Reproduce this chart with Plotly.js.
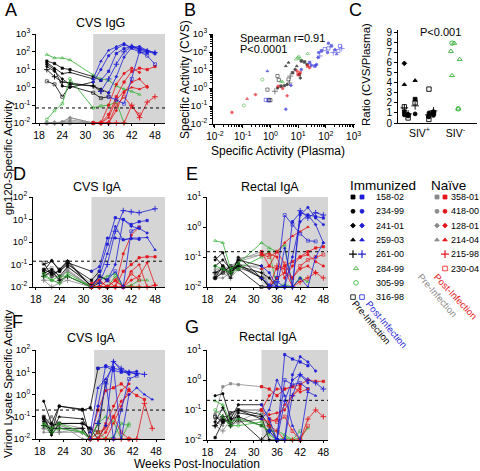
<!DOCTYPE html>
<html><head><meta charset="utf-8">
<script src="https://cdn.plot.ly/plotly-3.0.1.min.js"></script>
<style>html,body{margin:0;padding:0;background:#fff}#chart{width:480px;height:471px}</style>
</head><body><div id="chart"></div>
<script>
// ---------- DATA ----------
const weeks  = [20,22,24,26,32,34,36,38,40,42,44,46,48];
const weeksF = [19,21,23,29,31,33,35,37,39,41,43,45,47];
const immunizedIds  = ['158-02','234-99','241-01','259-03','261-00','316-98'];
const uninfectedIds = ['284-99','305-99'];
const naiveIds      = ['358-01','418-00','128-01','214-04','215-98','230-04'];
const infectWeekImm   = [34,32,36,32,34,36];
const infectWeekNaive = [32,32,34,32,34,32];

// Panel A: CVS IgG (gp120)
const cvsIgG_imm = [
 [30,22,12,10,4,2.5,8,80,150,200,150,100,80],
 [20,10,1.2,1.0,2,10,60,150,250,180,120,90,null],
 [15,8,3,1.5,1.2,0.8,0.5,4,50,180,200,120,90],
 [25,12,6,7,3,30,120,200,300,150,100,80,null],
 [10,4,2,1.8,1.2,0.6,3,20,100,200,150,110,90],
 [2.2,1.5,0.3,1.2,0.5,0.25,0.3,0.2,0.12,3,100,60,20]];
const cvsIgG_uninf = [
 [70,45,45,35,5,3,2.5,1.2,0.8,0.6,0.4,null,null],
 [0.016,0.05,0.12,3,0.07,0.09,0.1,0.15,0.01,null,null,null,null]];
const cvsIgG_naive = [
 [0.01,0.01,0.01,0.012,0.01,0.01,0.03,0.3,2,8,12,10,15],
 [0.01,0.01,0.012,0.02,0.01,0.01,0.1,1.5,6,12,7,null,null],
 [0.01,0.01,0.01,0.015,0.01,0.01,0.01,0.05,0.5,2,3,1,null],
 [0.01,0.01,0.01,0.02,0.01,0.01,0.02,0.2,0.6,1,0.8,1.2,null],
 [0.01,0.01,0.01,0.01,0.01,0.01,0.01,0.01,0.01,0.1,0.02,0.15,0.3],
 [0.01,0.01,0.01,0.01,0.01,0.01,0.01,0.1,0.3,0.08,0.03,null,null]];

// Panel D: CVS IgA (gp120)
const cvsIgA_imm = [
 [0.06,0.04,0.05,0.1,0.02,0.05,0.8,12,10,6,8,9,null],
 [0.05,0.15,0.05,0.12,0.05,0.08,1.5,1.5,1.3,1.4,1.3,null,null],
 [0.04,0.06,0.03,0.08,0.012,0.03,0.02,0.1,10,5,4,2.5,null],
 [0.1,0.14,0.06,0.15,0.01,0.03,0.3,5,1.2,1.5,1.5,1.6,0.45],
 [0.03,0.05,0.02,0.03,0.01,0.015,0.1,3,25,22,20,null,30],
 [0.12,0.03,0.06,0.13,0.01,0.03,0.02,0.05,0.01,3,4.5,null,null]];
const cvsIgA_uninf = [
 [0.04,0.02,0.03,0.03,0.01,0.02,0.03,0.04,0.01,0.012,0.02,0.02,null],
 [0.03,0.02,0.015,0.04,0.01,0.01,0.01,0.03,0.01,0.01,0.01,null,null]];
const cvsIgA_naive = [
 [0.04,0.06,0.02,0.06,0.01,0.02,0.01,0.01,0.05,0.1,0.2,0.22,0.22],
 [0.05,0.03,0.03,0.05,0.01,0.01,0.02,0.01,0.3,2,4.5,null,null],
 [0.02,0.02,0.015,0.03,0.01,0.01,0.01,0.02,0.01,0.02,0.03,0.12,0.012],
 [0.03,0.04,0.02,0.08,0.015,0.02,0.01,0.01,0.01,0.05,0.1,0.01,null],
 [0.02,0.01,0.015,0.02,0.01,0.01,0.01,0.01,0.01,0.01,0.01,0.01,0.012],
 [0.06,0.07,0.03,0.05,0.01,0.01,0.01,0.02,0.01,0.04,0.02,null,null]];

// Panel E: Rectal IgA (gp120)
const recIgA_imm = [
 [0.02,0.05,0.03,0.06,0.02,0.01,0.01,0.01,1.5,3,2.5,2.2,2],
 [0.08,0.14,0.03,0.08,0.05,0.03,0.01,0.01,0.01,2.5,4.5,2,1.2],
 [0.05,0.08,0.04,0.05,0.03,0.02,0.01,0.01,0.1,1.5,2.5,1.2,0.3],
 [0.1,0.05,0.02,0.1,0.02,0.012,0.01,0.2,0.01,0.02,0.01,0.1,0.3],
 [0.03,0.04,0.03,0.05,0.02,0.01,0.015,0.01,0.01,3.5,2,3,2.5],
 [0.02,0.03,0.05,0.04,0.01,0.01,0.02,2.5,1.2,0.6,0.35,0.33,null]];
const recIgA_uninf = [
 [0.35,0.3,0.04,0.06,0.3,0.2,0.15,0.25,0.01,0.02,0.015,null,null],
 [0.05,0.04,0.03,0.04,0.1,0.15,0.01,0.012,0.01,0.02,null,null,null]];
const recIgA_naive = [
 [0.03,0.05,0.04,0.08,0.15,0.05,0.04,0.05,0.07,0.1,0.15,0.2,0.22],
 [0.025,0.03,0.05,0.07,0.12,0.13,0.1,0.02,0.05,0.1,0.12,0.07,0.05],
 [0.02,0.02,0.03,0.05,0.05,0.01,0.02,0.03,0.02,0.04,0.05,0.03,null],
 [0.04,0.04,0.02,0.06,0.04,0.05,0.15,0.3,0.5,0.7,1,null,null],
 [0.02,0.03,0.02,0.04,0.03,0.01,0.05,0.04,0.01,0.015,0.02,0.03,0.02],
 [0.03,0.04,0.03,0.09,0.12,0.1,0.15,0.06,0.02,0.05,0.08,0.1,0.12]];

// Panel F: CVS IgA (virion lysate)
const virCvs_imm = [
 [0.08,0.02,0.3,0.2,0.25,15,18,12,10,10,8,null,null],
 [0.5,0.05,0.3,0.22,0.01,0.3,20,15,12,10,11,null,null],
 [0.06,0.015,0.05,0.05,0.03,0.01,0.04,30,12,8,null,null,null],
 [0.1,0.02,0.1,0.08,0.02,2,5,18,0.01,1,2,1,0.6],
 [0.04,0.03,0.03,0.03,0.01,0.05,3,30,15,10,9,8,null],
 [0.1,0.04,0.05,0.05,0.03,0.02,4,0.01,0.2,5,7,null,null]];
const virCvs_uninf = [
 [0.05,0.03,0.05,0.02,0.01,0.05,0.1,0.06,0.01,0.05,null,null,null],
 [0.04,0.02,0.03,0.02,0.01,0.02,0.01,0.012,0.05,0.04,null,null,null]];
const virCvs_naive = [
 [0.03,0.1,0.05,0.03,0.01,0.2,1.5,2,3,1.5,0.9,0.6,null],
 [0.1,0.05,0.02,0.03,0.01,0.01,0.05,0.3,1.5,3,null,null,null],
 [0.02,0.02,0.05,0.01,0.01,0.01,0.02,0.1,0.5,1,null,null,null],
 [0.05,0.1,0.03,0.02,0.01,0.01,0.01,0.05,0.3,1.8,null,null,null],
 [0.03,0.02,0.02,0.02,0.01,0.01,0.01,0.01,0.01,0.01,0.01,0.4,0.03],
 [0.06,0.05,0.04,0.02,0.01,0.02,0.03,0.1,0.02,0.01,null,null,null]];

// Panel G: Rectal IgA (virion lysate)
const virRec_imm = [
 [0.012,0.04,0.05,0.06,0.03,0.02,0.01,7,5,4,3,null,null],
 [0.3,0.35,0.05,0.15,0.15,0.05,0.01,0.01,1.5,6,4,2,null],
 [0.04,0.12,0.03,0.08,0.06,0.01,0.01,0.2,1,1.5,0.8,null,null],
 [0.03,0.05,0.04,0.1,0.05,0.1,1,0.3,0.03,0.01,0.4,0.3,null],
 [0.03,0.06,0.03,0.05,0.01,0.02,0.01,0.01,0.3,1.5,1,0.8,0.5],
 [0.06,0.04,0.08,0.1,0.07,0.03,0.01,1,0.7,0.8,0.5,null,null]];
const virRec_uninf = [
 [0.2,0.15,0.04,0.05,0.03,0.02,0.02,0.015,0.01,0.012,0.025,null,null],
 [0.1,0.06,0.03,0.03,0.04,0.015,0.01,0.012,0.01,0.02,null,null,null]];
const virRec_naive = [
 [0.07,0.6,0.75,0.7,0.6,0.5,0.3,0.5,0.6,0.7,1,0.9,0.9],
 [0.05,0.06,0.06,0.1,0.1,0.3,0.5,0.5,0.6,0.4,0.5,null,null],
 [0.04,0.03,0.08,0.1,0.1,0.07,0.08,0.1,0.3,0.5,null,null,null],
 [0.08,0.1,0.05,0.04,0.05,0.04,0.05,0.15,0.3,0.6,null,null,null],
 [0.03,0.02,0.05,0.04,0.05,0.03,0.02,0.01,0.01,0.01,0.05,0.1,0.06],
 [0.06,0.05,0.03,0.04,0.1,0.05,0.04,0.06,0.02,0.01,0.03,null,null]];

// Detection thresholds (dotted lines)
const thrA = 0.07, thrD = 0.14, thrE = 0.15, thrF = 0.2, thrG = 0.21;
const shadeStartWeek = 32;

// Panel B: plasma vs CVS specific activity
const bPreX  = [0.89,1.0,0.78,1.8,2.0,1.45,1.8,2.4,3.2,4.0,4.8,4.5,5.2,6.3,7.8,8.9,13,17,21,11,12,4.5,3.6];
const bPreY  = [0.22,0.21,0.81,4.6,2.8,0.66,1.0,1.26,1.35,1.55,1.9,3.0,4.6,7.1,10.7,16.6,32,28,20,5.6,3.6,26,16.6];
const bPreAnimal = [5,5,5,5,5,4,1,0,1,2,4,5,4,0,1,3,0,0,1,0,2,3,3];
const bPostX = [0.78,0.68,0.85,3.6,5.5,13,26,30,40,46,52,60,55,69,91,115,123,158,186,214,245,282,324,372,123];
const bPostY = [8.7,0.22,0.2,0.066,1.4,10.7,26,18,16.6,20,49,60,93,115,145,93,309,219,93,132,76,115,219,158,158];
const bPostAnimal = [3,5,5,2,2,1,0,1,0,1,2,4,1,0,5,1,1,0,4,1,3,5,5,4,5];
const bNaiveX = [0.041,0.145,0.29,1.9,2.75,4.0,9.1,11.7,10,22,26];
const bNaiveY = [0.044,0.25,0.43,1.26,0.93,0.37,8.7,7.1,5.6,16.6,13.5];
const bNaiveAnimal = [1,3,2,1,1,2,1,0,0,0,1];
const bUninfX = [0.11,0.51,2.4,2.75,8.5,9.8,10.5,11.7,22];
const bUninfY = [0.107,2.95,2.4,2.2,40,49,56,43,81];
const bUninfAnimal = [1,1,0,0,0,0,0,0,0];

// Panel C: ratio CVS/plasma
const ratioImm = [
 [0.8,1.0,2.35,1.1,0.7],
 [0.7,0.8,1.0,0.9,0.75,0.6],
 [5.9,1.0,0.8,0.7],
 [4.2,3.8,1.2,0.7,0.9],
 [1.2,1.5,1.7,0.9,0.8],
 [3.35,2.0,1.6,0.35,0.5,1.0]];
const ratioUninf = [[7.9,7.1,6.3,4.7,1.4],[7.9,1.4]];
const cCategories = ['SIV+','SIV-'];
const cTickText = ['SIV<sup>+</sup>','SIV<sup>-</sup>'];

// ---------- STYLE ----------
const FONT = 'Arial, "Liberation Sans", Helvetica, sans-serif';
const BLACK='#000000', BLUE='#1f1fd8', RED='#e4161c', GREEN='#2fae2f', GRAY='#8a8a8a', SHADE='#d5d5d5';
const immSym = ['square','circle','diamond','triangle-up','cross-thin','square-open'];
const uninfSym = ['triangle-up-open','circle-open'];
const naiveSym = ['square','circle','diamond','triangle-up','cross-thin','square-open'];
const W = 480, H = 471;
const px = x => x / W, py = y => 1 - y / H;

function symSize(symbol, base) {
  if (symbol.indexOf('thin') >= 0) return base + 1.6;
  if (symbol.indexOf('open') >= 0) return base + 0.6;
  if (symbol === 'diamond') return base - 0.2;
  return base;
}
function mkLine(xa, ya, x, y, color, symbol) {
  const thin = symbol.indexOf('thin') >= 0;
  return {type:'scatter', mode:'lines+markers', x, y, xaxis:xa, yaxis:ya, cliponaxis:false,
    hoverinfo:'skip', showlegend:false, line:{color, width:0.8},
    marker:{symbol, color, size: symSize(symbol, 2.4), line:{color, width: thin ? 0.9 : 0.6}}};
}
function split(vals, wk, infW) {
  const pre={x:[],y:[]}, post={x:[],y:[]};
  vals.forEach((v,j)=>{ if(v==null) return;
    if(wk[j] <= infW){pre.x.push(wk[j]); pre.y.push(v);}
    if(wk[j] >= infW){post.x.push(wk[j]); post.y.push(v);} });
  return {pre, post};
}
function panelTraces(xa, ya, wk, shift, imm, uninf, naive) {
  const t = [];
  const nP = naive.map((v,i)=>split(v, wk, infectWeekNaive[i]+shift));
  const iP = imm.map((v,i)=>split(v, wk, infectWeekImm[i]+shift));
  nP.forEach((p,i)=>t.push(mkLine(xa,ya,p.pre.x,p.pre.y,GRAY,naiveSym[i])));
  iP.forEach((p,i)=>t.push(mkLine(xa,ya,p.pre.x,p.pre.y,BLACK,immSym[i])));
  uninf.forEach((v,i)=>{ const xs=[],ys=[]; v.forEach((val,j)=>{ if(val!=null){xs.push(wk[j]); ys.push(val);} });
    t.push(mkLine(xa,ya,xs,ys,GREEN,uninfSym[i])); });
  nP.forEach((p,i)=>t.push(mkLine(xa,ya,p.post.x,p.post.y,RED,naiveSym[i])));
  iP.forEach((p,i)=>t.push(mkLine(xa,ya,p.post.x,p.post.y,BLUE,immSym[i])));
  return t;
}

let traces = [];
traces = traces.concat(panelTraces('x','y',weeks,0,cvsIgG_imm,cvsIgG_uninf,cvsIgG_naive));
traces = traces.concat(panelTraces('x4','y4',weeks,0,cvsIgA_imm,cvsIgA_uninf,cvsIgA_naive));
traces = traces.concat(panelTraces('x5','y5',weeks,0,recIgA_imm,recIgA_uninf,recIgA_naive));
traces = traces.concat(panelTraces('x6','y6',weeksF,-1,virCvs_imm,virCvs_uninf,virCvs_naive));
traces = traces.concat(panelTraces('x7','y7',weeks,0,virRec_imm,virRec_uninf,virRec_naive));

// Panel B scatter
function scat(x, y, ids, syms, color) {
  return {type:'scatter', mode:'markers', x, y, xaxis:'x2', yaxis:'y2', cliponaxis:false, hoverinfo:'skip', showlegend:false,
    marker:{symbol: ids.map(i=>syms[i]), color, size: ids.map(i=>symSize(syms[i], 2.6)),
      line:{color, width:0.7}}};
}
traces.push(scat(bPreX,bPreY,bPreAnimal,immSym,BLACK));
traces.push(scat(bUninfX,bUninfY,bUninfAnimal,uninfSym,GREEN));
traces.push(scat(bNaiveX,bNaiveY,bNaiveAnimal,naiveSym,RED));
traces.push(scat(bPostX,bPostY,bPostAnimal,immSym,BLUE));

// Panel C strip (box traces showing only jittered points)
function strip(cat, vals, symbol, color, jit) {
  return {type:'box', x: vals.map(()=>cat), y: vals, xaxis:'x3', yaxis:'y3', boxpoints:'all', jitter:jit, pointpos:0,
    width:1, fillcolor:'rgba(0,0,0,0)', line:{width:0, color:'rgba(0,0,0,0)'}, whiskerwidth:0, hoverinfo:'skip', showlegend:false,
    marker:{symbol, color, size: symSize(symbol, 3.8), line:{color, width:0.9}}};
}
ratioImm.forEach((v,i)=>traces.push(strip(cCategories[0], v, immSym[i], BLACK, 1)));
ratioUninf.forEach((v,i)=>traces.push(strip(cCategories[1], v, uninfSym[i], GREEN, 0.3)));

// Legend (pixel-space overlay axis)
const legRowY = r => 197 + r*14.3;
const legImm = [[0,353,BLACK],[0,362,BLUE],[1,353,BLACK],[1,362,BLUE],[2,353,BLACK],[2,362,BLUE],[3,353,BLACK],[3,362,BLUE],[4,353,BLACK],[4,362,BLUE],[7,353,BLACK],[7,362,BLUE]];
const immRowSym = ['square','circle','diamond','triangle-up','cross-thin',null,null,'square-open'];
const legNaive = [[0,437,GRAY],[0,445,RED],[1,437,GRAY],[1,445,RED],[2,437,GRAY],[2,445,RED],[3,437,GRAY],[3,445,RED],[4,445,RED],[5,445,RED]];
const naiveRowSym = ['square','circle','diamond','triangle-up','cross-thin','square-open'];
function legMarker(x, y, symbol, color) {
  const thin = symbol.indexOf('thin')>=0;
  return {type:'scatter', mode:'markers', x:[x], y:[y], xaxis:'x8', yaxis:'y8', hoverinfo:'skip', showlegend:false, cliponaxis:false,
    marker:{symbol, color, size: symSize(symbol, 4), line:{color, width: thin?1.2:0.8}}};
}
legImm.forEach(([r,x,c])=>traces.push(legMarker(x, legRowY(r), immRowSym[r], c)));
traces.push(legMarker(356, legRowY(5), 'triangle-up-open', GREEN));
traces.push(legMarker(356, legRowY(6), 'circle-open', GREEN));
legNaive.forEach(([r,x,c])=>traces.push(legMarker(x, legRowY(r), naiveRowSym[r], c)));

// ---------- LAYOUT ----------
const baseAx = {showline:true, linecolor:'#000', linewidth:1, ticks:'outside', ticklen:3, tickwidth:1, tickcolor:'#000',
  showgrid:false, zeroline:false, fixedrange:true, tickfont:{family:FONT, size:10.5, color:'#000'}};
const powLabel = e => '10<sup>' + (e<0 ? '-'+(-e) : e) + '</sup>';
function logY(domain, lo, hi, anchor) {
  const vals=[], text=[];
  for(let e=lo;e<=hi;e++){vals.push(Math.pow(10,e)); text.push(powLabel(e));}
  return Object.assign({}, baseAx, {type:'log', domain, range:[lo,hi], tickvals:vals, ticktext:text, anchor,
    tickfont:{family:FONT, size:9.5, color:'#000'}});
}
function timeX(domain, range, anchor) {
  return Object.assign({}, baseAx, {domain, range, tickvals:[18,24,30,36,42,48], anchor, ticklen:2});
}
const rA=[17.2,50.6], rD=[17.3,50.5], rE=[17.9,49.2], rF=[17.0,50.3], rG=[17.9,49.2];

const layout = {
  width:W, height:H, margin:{l:0,r:0,t:0,b:0}, paper_bgcolor:'#fff', plot_bgcolor:'rgba(0,0,0,0)',
  showlegend:false, boxmode:'overlay', font:{family:FONT, color:'#000'},
  xaxis:  timeX([px(36),px(165)], rA, 'y'),
  yaxis:  logY([py(123),py(34)], -2, 3, 'x'),
  xaxis2: Object.assign({}, baseAx, {type:'log', domain:[px(213),px(355)], range:[-2.07,3.05], anchor:'y2',
           tickvals:[0.01,0.1,1,10,100,1000], ticktext:[-2,-1,0,1,2,3].map(powLabel), tickfont:{family:FONT,size:10,color:'#000'},
           minor:{ticks:'outside', ticklen:2, tickcolor:'#000', dtick:'D1', showgrid:false}}),
  yaxis2: Object.assign(logY([py(124),py(34)], -2, 3, 'x2'), {minor:{ticks:'outside', ticklen:2, tickcolor:'#000', dtick:'D1', showgrid:false}}),
  xaxis3: Object.assign({}, baseAx, {type:'category', domain:[px(398),px(477)], range:[-0.6,1.6], anchor:'y3',
           categoryorder:'array', categoryarray:cCategories, tickvals:cCategories, ticktext:cTickText, ticks:''}),
  yaxis3: Object.assign({}, baseAx, {domain:[py(123),py(30)], range:[0,9.2], dtick:1, tick0:0, anchor:'x3',
           tickfont:{family:FONT,size:10,color:'#000'}}),
  xaxis4: timeX([px(33),px(165)], rD, 'y4'),
  yaxis4: logY([py(287),py(197)], -2, 2, 'x4'),
  xaxis5: timeX([px(207),px(328)], rE, 'y5'),
  yaxis5: logY([py(287),py(197)], -2, 1, 'x5'),
  xaxis6: timeX([px(36),px(165)], rF, 'y6'),
  yaxis6: logY([py(439),py(350)], -2, 2, 'x6'),
  xaxis7: timeX([px(207),px(328)], rG, 'y7'),
  yaxis7: logY([py(440),py(350)], -2, 1, 'x7'),
  xaxis8: {domain:[0,1], range:[0,W], visible:false, fixedrange:true, anchor:'y8'},
  yaxis8: {domain:[0,1], range:[H,0], visible:false, fixedrange:true, anchor:'x8'},
  shapes: [], annotations: []
};

// shading + threshold lines
[['x','y',rA,[-2,3],thrA],['x4','y4',rD,[-2,2],thrD],['x5','y5',rE,[-2,1],thrE],['x6','y6',rF,[-2,2],thrF],['x7','y7',rG,[-2,1],thrG]]
.forEach(([xa,ya,xr,yr,thr])=>{
  layout.shapes.push({type:'rect', xref:xa, yref:ya+' domain', x0:shadeStartWeek, x1:xr[1], y0:0, y1:1, fillcolor:SHADE, line:{width:0}, layer:'below'});
  const f = (Math.log10(thr)-yr[0])/(yr[1]-yr[0]);
  layout.shapes.push({type:'line', xref:xa+' domain', yref:ya+' domain', x0:0, x1:1, y0:f, y1:f, line:{color:'#000', width:1, dash:'dot'}});
});

function ann(text, x, y, size, opts) {
  layout.annotations.push(Object.assign({text, x:px(x), y:py(y), xref:'paper', yref:'paper', showarrow:false,
    xanchor:'center', yanchor:'middle', font:{family:FONT, size, color:'#000'}}, opts||{}));
}
// panel letters
[['A',11,10],['B',190,10],['C',355,10],['D',19,174],['E',192,174],['F',17,322],['G',192,327]].forEach(([t,x,y])=>ann(t,x,y,18));
// panel titles
ann('CVS IgG',100,23,12.5); ann('CVS IgA',97,187,12.5); ann('Rectal IgA',270,187,12.5);
ann('CVS IgA',91,338,12.5); ann('Rectal IgA',268,337,12.5);
// B/C texts
ann('Spearman r=0.91',238,38,11,{xanchor:'left'});
ann('P&lt;0.0001',238,49,11,{xanchor:'left'});
ann('Specific Activity (CVS)',185,80,12,{textangle:-90});
ann('Specific Activity (Plasma)',278,151,12);
ann('Ratio (CVS/Plasma)',366,75,11.5,{textangle:-90});
ann('P&lt;0.001',440,32,11);
// shared axis titles
ann('gp120-Specific Activity',8,158,11.5,{textangle:-90});
ann('Virion Lysate Specific Activity',8,384,11.5,{textangle:-90});
ann('Weeks Post-Inoculation',197,464,12);
// legend texts
ann('Immunized',383,185,13.5); ann('Naïve',448,185,13.5);
const immRowLabels = ['158-02','234-99','241-01','259-03','261-00','284-99','305-99','316-98'];
immRowLabels.forEach((t,r)=>ann(t,374,legRowY(r),9,{xanchor:'left'}));
naiveIds.forEach((t,r)=>ann(t,449,legRowY(r),9,{xanchor:'left'}));
ann('Pre-Infection',372,322,9.5,{textangle:50, font:{family:FONT,size:9.5,color:BLACK}});
ann('Post-Infection',387,324,9.5,{textangle:50, font:{family:FONT,size:9.5,color:BLUE}});
ann('Pre-Infection',438,295,9.5,{textangle:49, font:{family:FONT,size:9.5,color:GRAY}});
ann('Post-Infection',456,296,9.5,{textangle:47, font:{family:FONT,size:9.5,color:RED}});

Plotly.newPlot('chart', traces, layout, {staticPlot:true, displayModeBar:false});
</script></body></html>
